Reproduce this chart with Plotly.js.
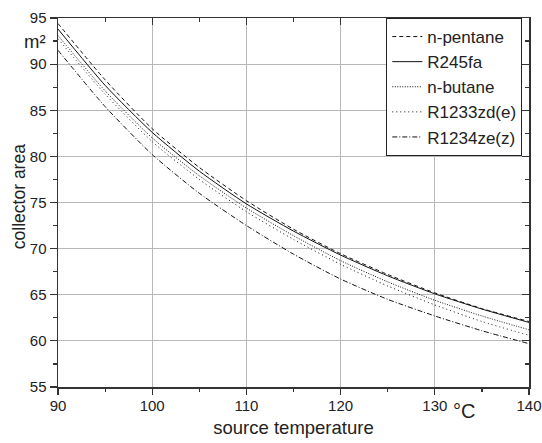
<!DOCTYPE html>
<html>
<head>
<meta charset="utf-8">
<script src="https://cdn.plot.ly/plotly-3.0.1.min.js"></script>
<style>html,body{margin:0;padding:0;background:#fff;}#chart{width:542px;height:443px;}</style>
</head>
<body>
<div id="chart"></div>
<script>
const temperature = [90, 95, 100, 105, 110, 115, 120, 125, 130, 135, 140];
const nPentane  = [94.4, 88.3, 83.0, 78.8, 75.2, 72.1, 69.45, 67.2, 65.2, 63.5, 62.1];
const r245fa    = [93.8, 87.7, 82.6, 78.4, 74.85, 71.9, 69.3, 67.05, 65.1, 63.45, 62.0];
const nButane   = [93.1, 87.1, 82.0, 77.9, 74.4, 71.4, 68.7, 66.4, 64.4, 62.7, 61.2];
const r1233zdE  = [92.75, 86.75, 81.6, 77.5, 74.0, 71.0, 68.3, 65.95, 63.9, 62.1, 60.6];
const r1234zeZ  = [91.5, 85.4, 80.2, 76.0, 72.5, 69.4, 66.7, 64.5, 62.7, 61.1, 59.7];
const seriesNames = ["n-pentane", "R245fa", "n-butane", "R1233zd(e)", "R1234ze(z)"];
const seriesData = [nPentane, r245fa, nButane, r1233zdE, r1234zeZ];
const dashes = ["4px,3px", "solid", "1px,1.5px", "1px,3px", "5px,2px,1px,2px"];

const traces = seriesData.map((ys, i) => ({
  x: temperature, y: ys, name: seriesNames[i], type: 'scatter', mode: 'lines',
  line: {color: '#111', width: 1, dash: dashes[i], shape: 'spline', smoothing: 0.6}
}));
traces.push({x: [temperature[0]], y: [nPentane[0]], xaxis: 'x2', yaxis: 'y2', mode: 'markers',
  marker: {opacity: 0}, showlegend: false, hoverinfo: 'skip'});

const fam = 'Liberation Sans, Arial, sans-serif';
const font = {family: fam, size: 15, color: '#222'};
const titleFont = {family: fam, size: 18.5, color: '#222'};
const layout = {
  width: 542, height: 443,
  margin: {l: 58, r: 13, t: 18, b: 56, pad: 0},
  paper_bgcolor: '#fff', plot_bgcolor: '#fff',
  font: font,
  showlegend: true,
  legend: {x: 0.697, y: 1, xanchor: 'left', yanchor: 'top', bgcolor: '#fff',
    bordercolor: '#222', borderwidth: 1, font: {family: fam, size: 17, color: '#222'},
    tracegroupgap: 0},
  xaxis: {range: [90, 140], dtick: 10, tick0: 90, ticks: 'outside', ticklen: 6, tickwidth: 1.2,
    tickcolor: '#333', showline: true, linecolor: '#333', linewidth: 1.5, showgrid: true,
    gridcolor: '#b8b8b8', gridwidth: 1, zeroline: false, ticklabelstandoff: -2,
    minor: {dtick: 5, ticks: 'outside', ticklen: 3, tickcolor: '#333', showgrid: false},
    title: {text: 'source temperature', font: titleFont, standoff: 8}},
  yaxis: {range: [55, 95], dtick: 5, tick0: 55, ticks: 'outside', ticklen: 7, tickwidth: 1.2,
    tickcolor: '#333', showline: true, linecolor: '#333', linewidth: 1.5, showgrid: true,
    gridcolor: '#b8b8b8', gridwidth: 1, zeroline: false,
    minor: {dtick: 2.5, ticks: 'outside', ticklen: 4, tickcolor: '#333', showgrid: false}},
  xaxis2: {overlaying: 'x', side: 'top', anchor: 'y', range: [90, 140], dtick: 10, tick0: 90,
    ticks: 'inside', ticklen: 7, tickwidth: 1.2, tickcolor: '#333', showline: true, linecolor: '#333',
    linewidth: 1.5, showticklabels: false, showgrid: false, zeroline: false,
    minor: {dtick: 5, ticks: 'inside', ticklen: 4, tickcolor: '#333', showgrid: false}},
  yaxis2: {overlaying: 'y', side: 'right', anchor: 'x', range: [55, 95], dtick: 5, tick0: 55,
    ticks: 'inside', ticklen: 7, tickwidth: 1.2, tickcolor: '#333', showline: true, linecolor: '#333',
    linewidth: 1.5, showticklabels: false, showgrid: false, zeroline: false,
    minor: {dtick: 2.5, ticks: 'inside', ticklen: 4, tickcolor: '#333', showgrid: false}},
  annotations: [
    {text: 'collector area', xref: 'paper', yref: 'paper', x: -0.083, y: 0.517, xanchor: 'center',
     yanchor: 'middle', textangle: -90, showarrow: false, font: {family: fam, size: 17.5, color: '#222'}},
    {text: 'm²', xref: 'paper', yref: 'paper', x: -0.022, y: 0.935, xanchor: 'right', yanchor: 'middle',
     showarrow: false, font: titleFont},
    {text: '°C', xref: 'paper', yref: 'paper', x: 0.862, y: -0.065, xanchor: 'center', yanchor: 'middle',
     showarrow: false, font: {family: fam, size: 20, color: '#222'}}
  ]
};
Plotly.newPlot('chart', traces, layout, {displayModeBar: false, staticPlot: true});
</script>
</body>
</html>
